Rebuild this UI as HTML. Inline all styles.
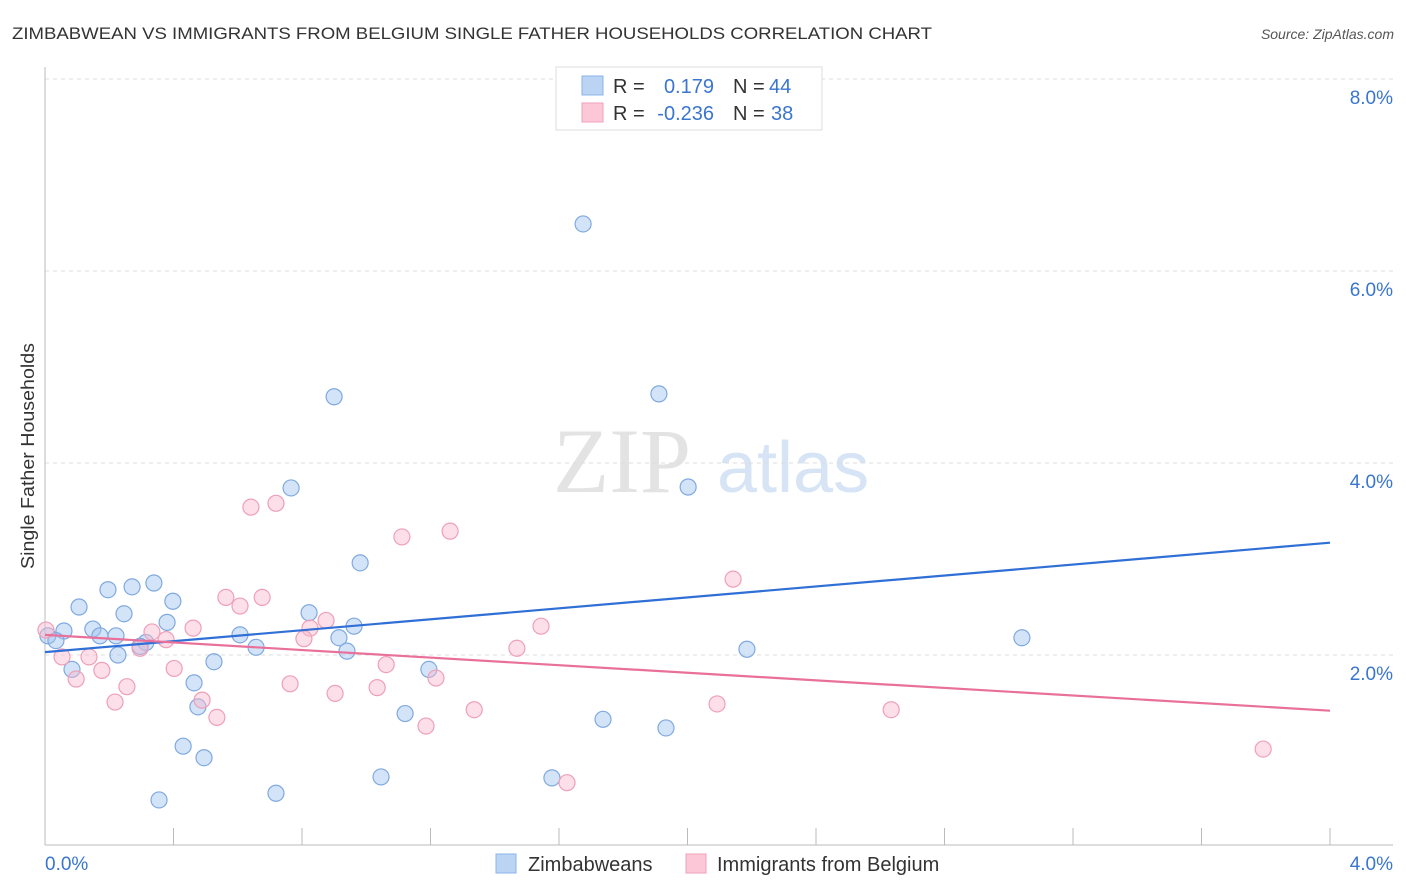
<!DOCTYPE html>
<html><head><meta charset="utf-8"><style>
body{margin:0;background:#fff;font-family:"Liberation Sans",sans-serif;}
svg{display:block}
</style></head><body>
<svg id="chart" width="1406" height="892">
<text x="12" y="39" font-size="17" fill="#333" textLength="920" lengthAdjust="spacingAndGlyphs">ZIMBABWEAN VS IMMIGRANTS FROM BELGIUM SINGLE FATHER HOUSEHOLDS CORRELATION CHART</text>
<text x="1394" y="39" font-size="14" fill="#555" font-style="italic" text-anchor="end">Source: ZipAtlas.com</text>
<text transform="translate(34,456) rotate(-90)" font-size="18" fill="#333" text-anchor="middle" textLength="226" lengthAdjust="spacingAndGlyphs">Single Father Households</text>
<g>
<text x="553" y="492" font-size="92" font-family="Liberation Serif,serif" fill="#e3e3e3">ZIP</text>
<text x="717" y="492" font-size="72" fill="#d6e4f5">atlas</text>
</g>
<g id="grid"></g>
<g id="axes"></g>
<g id="pts"></g>
<g id="lines"></g>
<g>
<rect x="556" y="67" width="266" height="63" fill="#fff" stroke="#ddd"/>
<rect x="582" y="76" width="21" height="19" fill="#bcd4f4" stroke="#8ab4e8"/>
<rect x="582" y="103" width="21" height="19" fill="#fcc8d8" stroke="#f0a0b8"/>
<text x="613" y="93" font-size="20" fill="#333">R =</text>
<text x="714" y="93" font-size="20" fill="#3a75d0" text-anchor="end">0.179</text>
<text x="733" y="93" font-size="20" fill="#333">N =</text>
<text x="769" y="93" font-size="20" fill="#3a75d0">44</text>
<text x="613" y="120" font-size="20" fill="#333">R =</text>
<text x="714" y="120" font-size="20" fill="#3a75d0" text-anchor="end">-0.236</text>
<text x="733" y="120" font-size="20" fill="#333">N =</text>
<text x="771" y="120" font-size="20" fill="#3a75d0">38</text>
</g>
<g>
<rect x="496" y="854" width="20" height="19" fill="#bcd4f4" stroke="#8ab4e8"/>
<text x="528" y="871" font-size="20" fill="#333">Zimbabweans</text>
<rect x="686" y="854" width="20" height="19" fill="#fcc8d8" stroke="#f0a0b8"/>
<text x="717" y="871" font-size="20" fill="#333">Immigrants from Belgium</text>
</g>
</svg>
<script>
const blueX=[1.675,0.900,1.911,0.766,2.002,0.981,0.339,0.271,0.196,0.106,0.398,0.246,0.822,0.380,0.059,0.149,0.171,0.221,0.009,0.034,0.607,0.915,0.962,0.314,0.296,0.657,0.940,0.227,2.185,3.041,0.526,0.084,1.195,0.464,0.476,1.121,1.737,1.933,0.430,0.495,1.046,1.578,0.719,0.355];
const blueY=[6.49,4.69,4.72,3.74,3.75,2.96,2.75,2.71,2.68,2.50,2.56,2.43,2.44,2.34,2.25,2.27,2.20,2.20,2.20,2.15,2.21,2.18,2.30,2.13,2.09,2.08,2.04,2.00,2.06,2.18,1.93,1.85,1.85,1.71,1.46,1.39,1.33,1.24,1.05,0.93,0.73,0.72,0.56,0.49];
const pinkX=[0.641,0.719,1.261,1.111,2.142,0.563,0.676,0.607,0.875,0.461,0.333,0.825,1.544,0.003,0.377,0.806,0.296,1.469,0.053,0.137,1.062,0.402,0.177,0.097,1.217,0.763,0.255,1.034,0.903,0.489,0.218,2.092,1.336,2.634,0.535,1.186,3.792,1.625];
const pinkY=[3.54,3.58,3.29,3.23,2.79,2.60,2.60,2.51,2.36,2.28,2.24,2.28,2.30,2.26,2.16,2.17,2.07,2.07,1.98,1.98,1.90,1.86,1.84,1.75,1.76,1.70,1.67,1.66,1.60,1.53,1.51,1.49,1.43,1.43,1.35,1.26,1.02,0.67];
const blueTrend=[2.03,3.17];
const pinkTrend=[2.21,1.42];
const yTicks=[2,4,6,8];
const yTickLabels=["2.0%","4.0%","6.0%","8.0%"];
const xTicks=[0,0.4,0.8,1.2,1.6,2.0,2.4,2.8,3.2,3.6,4.0];
const NS="http://www.w3.org/2000/svg";
const sx=v=>45+v/4*1285;
const sy=v=>847-v*96;
function mk(tag,attrs,parent){const e=document.createElementNS(NS,tag);for(const k in attrs)e.setAttribute(k,attrs[k]);document.getElementById(parent).appendChild(e);return e;}
yTicks.forEach((t,i)=>{
 const l=mk('line',{x1:45,x2:1393,y1:sy(t),y2:sy(t),stroke:'#ddd','stroke-dasharray':'4,4'},'grid');
 
 
 const tx=mk('text',{x:1393,y:sy(t)+25,'font-size':19,fill:'#3a75d0','text-anchor':'end'},'grid');
 tx.textContent=yTickLabels[i];
 
 
});
let a=mk('line',{x1:45,x2:45,y1:67,y2:845,stroke:'#bbb'},'axes');


a=mk('line',{x1:45,x2:1393,y1:845,y2:845,stroke:'#bbb'},'axes');


xTicks.forEach(t=>{
 const l=mk('line',{x1:sx(t),x2:sx(t),y1:828,y2:845,stroke:'#bbb'},'axes');
 
 
});
let xl=mk('text',{x:45,y:870,'font-size':19,fill:'#3a75d0'},'axes');xl.textContent='0.0%';


xl=mk('text',{x:1393,y:870,'font-size':19,fill:'#3a75d0','text-anchor':'end'},'axes');xl.textContent='4.0%';


blueX.forEach((x,i)=>{
 const c=mk('circle',{cx:sx(x),cy:sy(blueY[i]),r:8,fill:'rgba(160,195,240,0.45)',stroke:'#7fa9e0','stroke-width':1.2},'pts');
 
 
});
pinkX.forEach((x,i)=>{
 const c=mk('circle',{cx:sx(x),cy:sy(pinkY[i]),r:8,fill:'rgba(248,185,205,0.45)',stroke:'#eea0b8','stroke-width':1.2},'pts');
 
 
});
let tl=mk('line',{x1:sx(0),x2:sx(4),y1:sy(blueTrend[0]),y2:sy(blueTrend[1]),stroke:'#2f6fd6','stroke-width':2.2},'lines');


tl=mk('line',{x1:sx(0),x2:sx(4),y1:sy(pinkTrend[0]),y2:sy(pinkTrend[1]),stroke:'#e8709a','stroke-width':2.2},'lines');


</script>
</body></html>
